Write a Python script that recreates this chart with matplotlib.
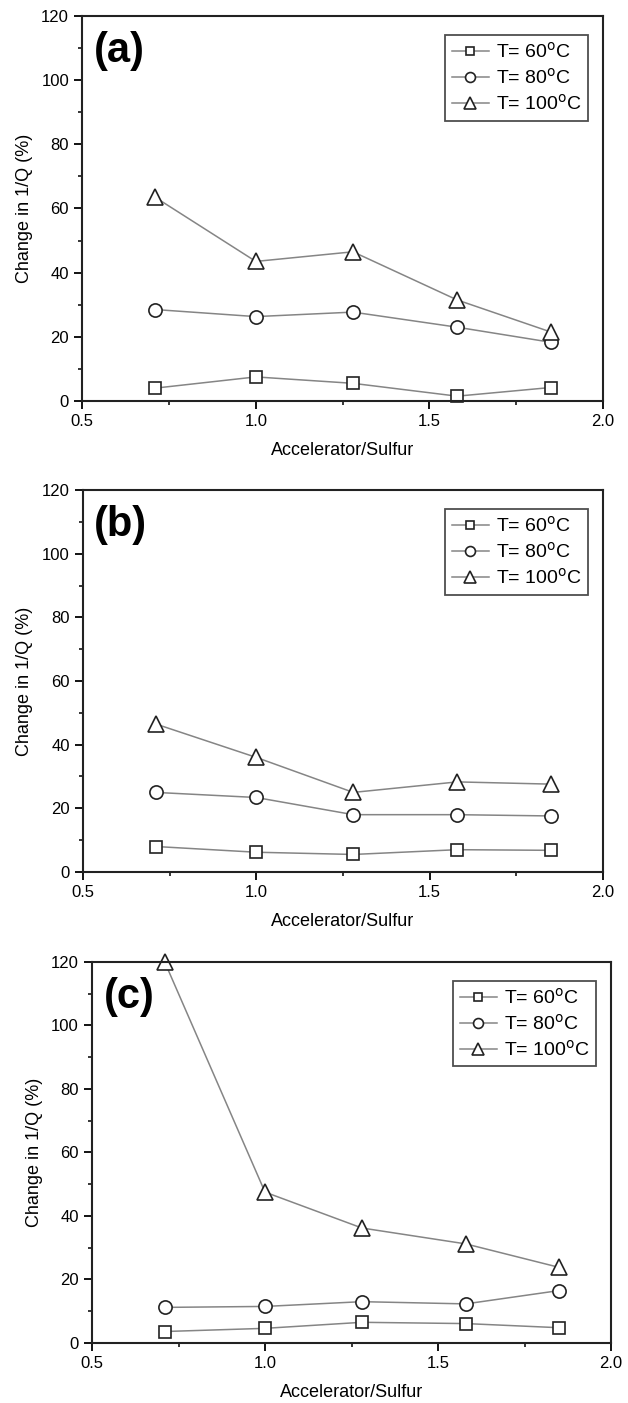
import matplotlib.pyplot as plt
from matplotlib.ticker import MultipleLocator

plt.rcParams['font.family'] = ['Liberation Sans', 'DejaVu Sans']

ratio = [0.71, 1.0, 1.28, 1.58, 1.85]
labels = ['T= 60$^{\\rm o}$C', 'T= 80$^{\\rm o}$C', 'T= 100$^{\\rm o}$C']
markers = ['s', 'o', '^']
msizes = [8, 9.5, 11]
panel_names = ['(a)', '(b)', '(c)']

# panel (a)
a_60 = [4.0, 7.5, 5.5, 1.5, 4.2]
a_80 = [28.5, 26.3, 27.7, 23.0, 18.3]
a_100 = [63.5, 43.5, 46.5, 31.5, 21.5]
# panel (b)
b_60 = [8.0, 6.2, 5.5, 7.0, 6.8]
b_80 = [25.0, 23.4, 18.0, 18.0, 17.6]
b_100 = [46.5, 36.0, 25.0, 28.3, 27.6]
# panel (c)
c_60 = [3.6, 4.6, 6.5, 6.1, 4.8]
c_80 = [11.2, 11.5, 13.0, 12.3, 16.5]
c_100 = [120.0, 47.5, 36.2, 31.2, 23.8]

panels = [[a_60, a_80, a_100], [b_60, b_80, b_100], [c_60, c_80, c_100]]

fig = plt.figure(figsize=(6.28, 14.03), dpi=100)
boxes = [[0.131, 0.7142, 0.829, 0.2744],
         [0.132, 0.3785, 0.828, 0.2722],
         [0.1465, 0.0428, 0.8265, 0.2716]]

for box, series, name in zip(boxes, panels, panel_names):
    ax = fig.add_axes(box)
    for ys, m, sz, lab in zip(series, markers, msizes, labels):
        ax.plot(ratio, ys, color='#858585', lw=1.1, marker=m, ms=sz,
                mfc='white', mec='#222222', mew=1.2, label=lab, clip_on=False)
    ax.set_xlim(0.5, 2.0)
    ax.set_ylim(0, 120)
    ax.xaxis.set_major_locator(MultipleLocator(0.5))
    ax.xaxis.set_minor_locator(MultipleLocator(0.25))
    ax.yaxis.set_major_locator(MultipleLocator(20))
    ax.yaxis.set_minor_locator(MultipleLocator(10))
    ax.xaxis.set_major_formatter(plt.FuncFormatter(lambda v, p: f'{v:.1f}'))
    ax.tick_params(which='major', direction='out', length=6, width=1.3,
                   labelsize=12, top=False, right=False)
    ax.tick_params(which='minor', direction='out', length=3, width=1.1,
                   top=False, right=False)
    for s in ax.spines.values():
        s.set_linewidth(1.5)
        s.set_color('#222222')
    ax.set_xlabel('Accelerator/Sulfur', fontsize=13, labelpad=9)
    ax.set_ylabel('Change in 1/Q (%)', fontsize=13, labelpad=6)
    ax.text(0.022, 0.96, name, transform=ax.transAxes, fontsize=30,
            fontweight='bold', va='top', ha='left')
    leg = ax.legend(loc='upper right', fontsize=14, frameon=True, fancybox=False,
                    edgecolor='#222222', handlelength=1.9, borderpad=0.35,
                    labelspacing=0.3, handletextpad=0.35, markerscale=0.75,
                    bbox_to_anchor=(0.99, 0.975))
    leg.get_frame().set_linewidth(1.3)

fig.savefig('out.png', dpi=100)
